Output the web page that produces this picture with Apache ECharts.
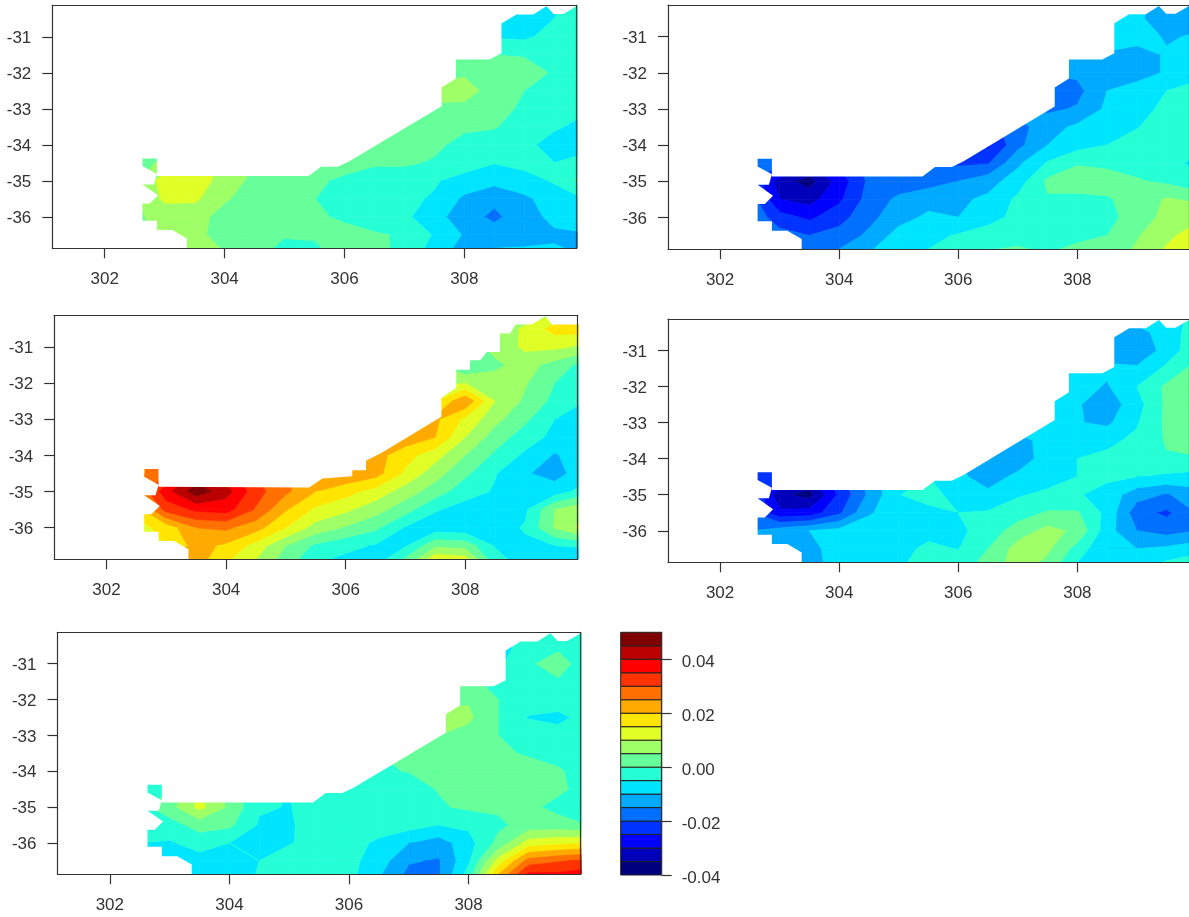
<!DOCTYPE html>
<html>
<head>
<meta charset="utf-8">
<title>Anomaly maps</title>
<script src="https://cdn.jsdelivr.net/npm/echarts@6/dist/echarts.min.js"></script>
<style>
html, body { margin: 0; padding: 0; background: #fff; overflow: hidden; }
#main { width: 1189px; height: 917px; }
</style>
</head>
<body>
<div id="main"></div>
<script>
var o = null;

// grid of the fields, values in 0.001
var lons = [302.5, 303, 303.5, 304, 304.5, 305, 305.5, 306, 306.5, 307, 307.5, 308, 308.5, 309, 309.5, 310];
var lats = [-30, -30.5, -31, -31.5, -32, -32.5, -33, -33.5, -34, -34.5, -35, -35.5, -36, -36.5, -37];

var fieldA = [
  [o, o, o, o, o, o, o, o, o, o, o, o, -7, -8, -6, -3],
  [o, o, o, o, o, o, o, o, o, o, o, o, -7, -8, -5, -3],
  [o, o, o, o, o, o, o, o, o, o, o, -5, -5.5, -6, -3, -2],
  [o, o, o, o, o, o, o, o, o, o, 2, 1, 0, -0.3, -2.5, -3],
  [o, o, o, o, o, o, o, o, o, o, 3, 4.5, 2.5, 2, -0.5, -3],
  [o, o, o, o, o, o, o, o, o, o, 7, 6.5, 3.5, 0, -2, -3],
  [o, o, o, o, o, o, o, o, o, 3, 4, 4, 2, -1, -3, -4.5],
  [o, o, o, o, o, o, o, o, 3, 2.5, 1.5, 0.8, 0.3, -2, -4.5, -6],
  [1, 2, o, o, o, o, o, 2.5, 3, 2.5, 1, -1.5, -2, -4, -6.5, -7],
  [3, 6, 12, 9, 5, 4, 3, 2, 0.5, 0.7, -0.5, -2.5, -4.8, -3.5, -5, -3],
  [3, 13, 14, 7, 4, 3, 1, -1, -2, -3, -4.5, -7, -8.5, -7, -4.5, 2],
  [4, 11, 11, 5.5, 3, 2, 0.1, -2.5, -3, -4, -5.5, -11, -14, -11, -7.5, -5],
  [4, 7, 6.5, 3.5, 2.5, 1.5, 0.5, -0.5, -2.5, -4, -8, -13, -16, -12.5, -8.5, -7],
  [3, 6, 6, 3.5, 2, 0.5, 0.5, 1, 0.5, -0.5, -5.5, -10.5, -13, -13, -11, -10.5],
  [3, 6, 6, 5, 1.5, -2, -1, 1.5, 1, -1, -8, -12, -9, -8.5, -9, -10.5]
];
var fieldB = [
  [o, o, o, o, o, o, o, o, o, o, o, o, -3, -9, -12, -13],
  [o, o, o, o, o, o, o, o, o, o, o, o, -3, -9, -13, -12],
  [o, o, o, o, o, o, o, o, o, o, o, -9, -6, -8, -10.5, -9.5],
  [o, o, o, o, o, o, o, o, o, o, -12, -12, -11, -12, -9.5, -7.5],
  [o, o, o, o, o, o, o, o, o, o, -15, -14, -12.5, -12, -9.5, -6.5],
  [o, o, o, o, o, o, o, o, o, o, -16, -16.5, -10, -8, -5, -3.5],
  [o, o, o, o, o, o, o, o, o, -13, -16, -14.5, -9, -6.5, -4, -3],
  [o, o, o, o, o, o, o, o, -22, -17, -12, -9, -6.5, -5.2, -3, -2.5],
  [-16, -16, o, o, o, o, o, -22, -26, -16.5, -10, -7, -5, -3.5, -3.5, -4],
  [-17, -18, -30, -24, -18, -16, -18, -21, -20.5, -11, -4.5, -0.3, -1, -2, -3.5, -6],
  [-20, -33, -37, -28, -19, -18, -17, -15, -12, -7.5, 1, 2, 2, 0.5, -1, -4],
  [-17, -30, -32, -26, -18, -14, -12, -11, -9, -4, -0.5, -1, -0.5, 2, 5.5, 4],
  [-16, -23, -26, -22, -16.5, -12, -9, -10, -7, -3.5, -1.5, -1.5, -1, 1.5, 7, 9],
  [-14, -18, -20, -18, -14, -8, -6.5, -4.5, -2.5, -1.5, -1, -0.7, 0, 4.5, 9, 12],
  [-14, -15, -17, -14, -10, -5.5, -4.5, -2, 0.5, 1, 0, 1, 2.5, 6, 11, 14]
];
var fieldC = [
  [o, o, o, o, o, o, o, o, o, o, o, o, 4, 5, 8, 14],
  [o, o, o, o, o, o, o, o, o, o, o, o, 6, 11, 17, 17],
  [o, o, o, o, o, o, o, o, o, o, o, 2, 6.5, 11, 11, 9],
  [o, o, o, o, o, o, o, o, o, o, 5, -1, 4, 7, 3, -2],
  [o, o, o, o, o, o, o, o, o, o, 8, 10, 7, 5.5, 0, -4],
  [o, o, o, o, o, o, o, o, o, o, 15, 24, 10, 4, -1.5, -5],
  [o, o, o, o, o, o, o, o, o, 12, 21, 14, 6.5, 1, -5, -8],
  [o, o, o, o, o, o, o, o, 15, 23, 20, 10, 2.5, -2.5, -6.5, -8],
  [22, 30, o, o, o, o, o, 20, 22, 17, 12, 5, -1, -6, -10.5, -7],
  [23, 30, 42, 38, 30, 26, 22, 24, 22, 14, 7, 1, -4.7, -9.5, -12, -7],
  [25, 38, 48, 42, 32, 26, 20, 17, 13, 7.5, 2.5, -3, -5.5, -10, -7.5, -3],
  [17, 32, 36, 37, 29.5, 20.5, 14, 11, 7, 2, -4.5, -7, -7.5, -6, 5, 9],
  [13, 17, 25, 26, 22, 15, 8, 4.5, 1, -5.5, -8, -8.5, -7.5, -4.5, 5.5, 12],
  [10, 15, 22, 19, 13, 5, -1, -3.5, -5.5, -5.5, 4, 3, -5.5, -6, -5, -4],
  [10, 22, 22, 15, 9, 2, -5, -7, -6, 3, 17, 15, -2, -7, -8, -13]
];
var fieldD = [
  [o, o, o, o, o, o, o, o, o, o, o, o, -8, -7, -7, -4],
  [o, o, o, o, o, o, o, o, o, o, o, o, -11, -12, -7.5, -2.5],
  [o, o, o, o, o, o, o, o, o, o, o, -7, -12.5, -15, -7.5, -2],
  [o, o, o, o, o, o, o, o, o, o, -7, -7, -9, -9, -4, 2],
  [o, o, o, o, o, o, o, o, o, o, -8, -8, -10.5, -5, 1, 2.5],
  [o, o, o, o, o, o, o, o, o, o, -8, -9.5, -13, -7, 1, 2.5],
  [o, o, o, o, o, o, o, o, o, -7, -7.5, -9.7, -11, -5.5, 1, 2.5],
  [o, o, o, o, o, o, o, o, -12, -12, -8, -8, -6, -4, 0.5, 2.5],
  [-20, -20, o, o, o, o, o, -10, -12, -12.5, -8, -5, -4, -3.5, -0.5, -0.5],
  [-22, -25, -30, -22, -13, -6, -5, -9, -12, -9, -7, -5, -4, -5, -6, -7],
  [-18, -34, -37, -24, -14, -5.2, -3, -7, -9, -5.5, -4, -4.5, -7, -13, -15.5, -12],
  [-19, -29, -28, -21, -10.5, -7.5, -6.5, -5, -4.5, -2.5, 0.5, 0.5, -6.5, -18, -21, -15],
  [-15, -12.5, -10, -8.5, -7.5, -7, -6.5, -6, -3, 2.5, 6.5, 4, -8, -15, -17, -15],
  [-12, -13, -11, -8.5, -7.5, -6.5, -4, -5.2, 0, 7, 6, -2, -10, -10, -9, -7],
  [-12, -12, -11, -9, -7.5, -5.5, -3, -2, 2, 7.5, 3, -6, -8, -6, -3, -1]
];
var fieldE = [
  [o, o, o, o, o, o, o, o, o, o, o, o, -6, -2.5, -2, -2],
  [o, o, o, o, o, o, o, o, o, o, o, o, -7, -3, -1.5, -2],
  [o, o, o, o, o, o, o, o, o, o, o, -2, -6, -1, 3, -4],
  [o, o, o, o, o, o, o, o, o, o, 2, 1, -1.5, -0.3, -0.8, -2],
  [o, o, o, o, o, o, o, o, o, o, 3, 4.5, 0, -2.5, -3, -3],
  [o, o, o, o, o, o, o, o, o, o, 7, 6, 0, -5.3, -6, -3.5],
  [o, o, o, o, o, o, o, o, o, 3, 5, 3, 0, -2, -3.5, -3],
  [o, o, o, o, o, o, o, o, 0, 1.5, 1.5, 2.5, 0.8, -0.5, -1.5, -2],
  [-2, 1, o, o, o, o, o, -1, -0.3, 0.1, 0, 2, 2, 2, 0.5, -2],
  [-2, 0, 10, 3, -5, -5, -2, -2, -1.5, -1.5, 0.2, 2.5, 3, 3, 1, -2],
  [-2, 3, 11.5, 4, -4.5, -5.2, -3, -2, -1.5, -1, -0.5, 0.8, 0.8, 1.2, -1.5, -2],
  [-2, -2, 2, 1, -5.5, -5.5, -3, -3, -2.5, -3, -5, -4, -1, 2, 2, 0],
  [-5, -5.5, -3, -5, -8, -5.3, -3.5, -3, -6, -10, -12.5, -7, 1.5, 12, 13.5, 15],
  [-6, -7, -7, -7, -5, -3, -3.5, -3.5, -7.5, -14.5, -15.5, -6, 12, 27, 29.5, 31],
  [-7, -7, -7, -7.5, -4.5, -2.5, -2.5, -3.5, -10, -17, -16, -1.5, 23, 39, 38, 40]
];

// levels of the colour key, in 0.001
var levels = [-40, -35, -30, -25, -20, -15, -10, -5, 0, 5, 10, 15, 20, 25, 30, 35, 40, 45, 50];
var bandColors = ['#00007f', '#0000bb', '#0000ff', '#0033ff', '#0070ff', '#00aaff', '#00e5ff', '#26ffd5', '#66ff99',
  '#9fff66', '#dfff26', '#ffe500', '#ffaa00', '#ff7000', '#ff3300', '#ff0000', '#bb0000', '#7f0000'];

var lonTicks = [302, 304, 306, 308];
var latTicks = [-31, -32, -33, -34, -35, -36];
var keyTicks = [-0.04, -0.02, 0, 0.02, 0.04];

// what is white in the maps: the land side of the coast, shared left end
var coastWest = [[302.87, -34.87], [302.87, -34.38], [302.63, -34.38], [302.63, -34.59], [302.87, -34.81], [302.82, -35.1],
  [302.63, -35.1], [302.89, -35.4], [302.75, -35.63], [302.63, -35.63], [302.63, -36.11], [302.87, -36.11], [302.87, -36.37],
  [303.13, -36.37], [303.37, -36.6], [303.37, -37.2], [301, -37.2], [301, -30], [310, -30]];
var coastCommon = [[310, -30.15], [309.875, -30.15], [309.65, -30.37], [309.49, -30.37], [309.37, -30.15], [309.15, -30.38],
  [308.87, -30.38], [308.62, -30.63], [308.62, -31.46], [308.42, -31.63], [307.86, -31.63], [307.86, -32.16], [307.62, -32.41],
  [307.62, -32.93], [306.09, -34.45], [305.89, -34.61], [305.61, -34.61], [305.4, -34.87]];
var coastWide = [[310, -30.38], [309.45, -30.38], [309.34, -30.15], [309.11, -30.38], [308.84, -30.38], [308.75, -30.63],
  [308.58, -30.63], [308.58, -31.14], [308.36, -31.14], [308.25, -31.37], [308.08, -31.37], [308.08, -31.63], [307.85, -31.63],
  [307.85, -32.13], [307.6, -32.41], [307.6, -32.93], [306.61, -33.92], [306.34, -34.15], [306.34, -34.41], [306.11, -34.41],
  [306.11, -34.58], [305.61, -34.64], [305.39, -34.89]];

var panels = [
  { field: fieldA, coast: coastCommon, left: 52.3, top: 5.3, width: 524.4, height: 243 },
  { field: fieldB, coast: coastCommon, left: 668, top: 5, width: 524.4, height: 244 },
  { field: fieldC, coast: coastWide, left: 54.2, top: 315.3, width: 523.2, height: 244 },
  { field: fieldD, coast: coastCommon, left: 668, top: 319, width: 524.4, height: 243.3 },
  { field: fieldE, coast: coastCommon, left: 57.5, top: 632.3, width: 523.2, height: 242 }
];

var axisColor = '#333';
var fontName = '"Liberation Sans", Arial, sans-serif';

// cut a polygon to one side of a level, corners carry their value
function clipSide(pts, level, keepAbove) {
  var out = [];
  for (var k = 0; k < pts.length; k++) {
    var a = pts[k];
    var b = pts[(k + 1) % pts.length];
    var aIn = keepAbove ? a[2] >= level : a[2] <= level;
    var bIn = keepAbove ? b[2] >= level : b[2] <= level;
    if (aIn) out.push(a);
    if (aIn !== bIn) {
      var t = (level - a[2]) / (b[2] - a[2]);
      out.push([a[0] + t * (b[0] - a[0]), a[1] + t * (b[1] - a[1]), level]);
    }
  }
  return out;
}

function contourCell(field) {
  return function (params, api) {
    var i = api.value(0);
    var j = api.value(1);
    var quad = [
      [lons[i], lats[j], field[j][i]],
      [lons[i + 1], lats[j], field[j][i + 1]],
      [lons[i + 1], lats[j + 1], field[j + 1][i + 1]],
      [lons[i], lats[j + 1], field[j + 1][i]]
    ];
    var children = [];
    for (var b = 0; b < bandColors.length; b++) {
      var poly = clipSide(clipSide(quad, levels[b], true), levels[b + 1], false);
      if (poly.length < 3) continue;
      children.push({
        type: 'polygon',
        shape: { points: poly.map(function (p) { return api.coord([p[0], p[1]]); }) },
        style: { fill: bandColors[b], stroke: bandColors[b], lineWidth: 0.7 }
      });
    }
    return { type: 'group', children: children };
  };
}

function cellsOf(field) {
  var cells = [];
  for (var j = 0; j < lats.length - 1; j++) {
    for (var i = 0; i < lons.length - 1; i++) {
      if (field[j][i] === null || field[j][i + 1] === null || field[j + 1][i] === null || field[j + 1][i + 1] === null) continue;
      cells.push([i, j]);
    }
  }
  return cells;
}

var grids = [], xAxes = [], yAxes = [], series = [];

panels.forEach(function (p, n) {
  grids.push({ left: p.left, top: p.top, width: p.width, height: p.height });
  var xIdx = xAxes.length;
  var yIdx = yAxes.length;
  var line = { show: true, onZero: false, lineStyle: { color: axisColor, width: 1.2 } };
  xAxes.push({
    type: 'value', gridIndex: n, min: 301.125, max: 309.875, position: 'bottom', z: 5,
    axisLine: line, splitLine: { show: false },
    axisTick: { show: true, length: 10, customValues: lonTicks, lineStyle: { color: axisColor, width: 1.2 } },
    axisLabel: { customValues: lonTicks, margin: 23, fontSize: 17, color: axisColor, fontFamily: fontName }
  });
  xAxes.push({
    type: 'value', gridIndex: n, min: 301.125, max: 309.875, position: 'top', z: 5,
    axisLine: line, splitLine: { show: false }, axisTick: { show: false }, axisLabel: { show: false }
  });
  yAxes.push({
    type: 'value', gridIndex: n, min: -36.875, max: -30.125, position: 'left', z: 5,
    axisLine: line, splitLine: { show: false },
    axisTick: { show: true, length: 10, customValues: latTicks, lineStyle: { color: axisColor, width: 1.2 } },
    axisLabel: { customValues: latTicks, margin: 21, fontSize: 17, color: axisColor, fontFamily: fontName, verticalAlign: 'top', lineHeight: 3 }
  });
  yAxes.push({
    type: 'value', gridIndex: n, min: -36.875, max: -30.125, position: 'right', z: 5,
    axisLine: line, splitLine: { show: false }, axisTick: { show: false }, axisLabel: { show: false }
  });
  series.push({
    type: 'custom', xAxisIndex: xIdx, yAxisIndex: yIdx, coordinateSystem: 'cartesian2d',
    clip: true, silent: true, animation: false, z: 2,
    encode: { x: -1, y: -1 },
    renderItem: contourCell(p.field),
    data: cellsOf(p.field)
  });
  series.push({
    type: 'custom', xAxisIndex: xIdx, yAxisIndex: yIdx, coordinateSystem: 'cartesian2d',
    clip: true, silent: true, animation: false, z: 3,
    encode: { x: -1, y: -1 },
    renderItem: function (params, api) {
      var outline = p.coast.concat(coastWest);
      return {
        type: 'polygon',
        shape: { points: outline.map(function (c) { return api.coord(c); }) },
        style: { fill: '#fff' }
      };
    },
    data: [[0, 0]]
  });
});

// colour key
var keyGrid = grids.length;
grids.push({ left: 620.7, top: 632.3, width: 41, height: 242.7 });
var keyX = xAxes.length;
var keyY = yAxes.length;
xAxes.push({
  type: 'value', gridIndex: keyGrid, min: 0, max: 1, show: false
});
yAxes.push({
  type: 'value', gridIndex: keyGrid, min: -0.04, max: 0.05, position: 'right', z: 5,
  axisLine: { show: true, onZero: false, lineStyle: { color: axisColor, width: 1.2 } },
  splitLine: { show: false },
  axisTick: { show: true, length: 10, customValues: keyTicks, lineStyle: { color: axisColor, width: 1.2 } },
  axisLabel: {
    customValues: keyTicks, margin: 20, fontSize: 17, color: axisColor, fontFamily: fontName, verticalAlign: 'top', lineHeight: 7,
    formatter: function (v) { return v.toFixed(2); }
  }
});
series.push({
  type: 'custom', xAxisIndex: keyX, yAxisIndex: keyY, coordinateSystem: 'cartesian2d',
  silent: true, animation: false, z: 2,
  encode: { x: -1, y: -1 },
  renderItem: function (params, api) {
    var a = api.coord([0, api.value(0) / 1000]);
    var b = api.coord([1, api.value(1) / 1000]);
    return {
      type: 'rect',
      shape: { x: a[0], y: b[1], width: b[0] - a[0], height: a[1] - b[1] },
      style: { fill: bandColors[params.dataIndex], stroke: '#222', lineWidth: 1 }
    };
  },
  data: bandColors.map(function (c, k) { return [levels[k], levels[k + 1]]; })
});

var chart = echarts.init(document.getElementById('main'), null, { renderer: 'canvas' });
chart.setOption({
  animation: false,
  backgroundColor: '#fff',
  grid: grids,
  xAxis: xAxes,
  yAxis: yAxes,
  series: series
});
</script>
</body>
</html>
